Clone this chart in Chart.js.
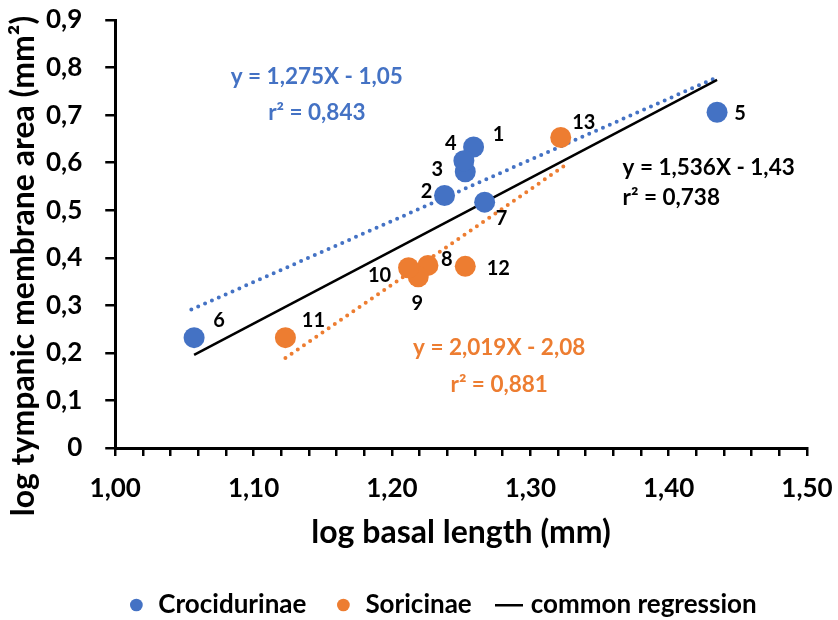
<!DOCTYPE html>
<html>
<head>
<meta charset="utf-8">
<script src="https://cdn.jsdelivr.net/npm/chart.js@4.4.1/dist/chart.umd.min.js"></script>
<style>
  html, body { margin: 0; padding: 0; background: #fff; }
  #wrap { width: 838px; height: 620px; }
</style>
</head>
<body>
<div id="wrap"><canvas id="graph"></canvas></div>
<script>
// Crocidurinae (espèces 1 à 7)
const crocIds = ['1', '2', '3', '4', '5', '6', '7'];
const crocX = [1.259, 1.238, 1.253, 1.252, 1.435, 1.057, 1.267];
const crocY = [0.633, 0.531, 0.581, 0.604, 0.706, 0.232, 0.517];

// Soricinae (espèces 8 à 13)
const soriIds = ['8', '9', '10', '11', '12', '13'];
const soriX = [1.226, 1.219, 1.212, 1.123, 1.253, 1.322];
const soriY = [0.384, 0.360, 0.379, 0.232, 0.382, 0.653];

// droites de régression (extrémités)
const crocTrendX = [1.055, 1.433];
const crocTrendY = [0.291, 0.777];
const soriTrendX = [1.123, 1.325];
const soriTrendY = [0.189, 0.594];
const commonX = [1.057, 1.435];
const commonY = [0.196, 0.774];

// équations affichées
const crocEq = ['y = 1,275X - 1,05', 'r² = 0,843'];
const soriEq = ['y = 2,019X - 2,08', 'r² = 0,881'];
const commonEq = ['y = 1,536X - 1,43', 'r² = 0,738'];

// axes
const xMin = 1.0, xMax = 1.5;
const yMin = 0, yMax = 0.9;

const BLUE = '#4472C4';
const ORANGE = '#ED7D31';
const FONT = 'Lato';

// décalage (px) des numéros par rapport aux points
const crocLabelOffsets = [[25, -12], [-18, -4], [-28, -2], [-13, -17], [23, 1], [25, -17], [17, 16]];
const soriLabelOffsets = [[19, -6], [-1, 27], [-29, 8], [28, -17], [33, 2], [23, -15]];

const toPoints = (xs, ys) => xs.map((x, i) => ({ x: x, y: ys[i] }));
const comma = (v, d) => v.toFixed(d).replace('.', ',');

// petit trait noir pour la légende
const legendLine = document.createElement('canvas');
legendLine.width = 28;
legendLine.height = 4;
const lctx = legendLine.getContext('2d');
lctx.fillStyle = '#000';
lctx.fillRect(0, 1, 28, 2.5);

// numéros des points + équations
const annotations = {
    id: 'annotations',
    afterLayout(chart) {
        // la légende de la figure est un peu décalée vers la droite
        chart.legend.left += 27;
        chart.legend.right += 27;
    },
    afterDatasetsDraw(chart) {
        const { ctx, scales } = chart;
        const sx = scales.x, sy = scales.y;
        ctx.save();
        ctx.fillStyle = '#000';
        ctx.textAlign = 'center';
        ctx.textBaseline = 'middle';
        ctx.font = 'bold 20px ' + FONT;
        crocIds.forEach((id, i) => {
            const o = crocLabelOffsets[i];
            ctx.fillText(id, sx.getPixelForValue(crocX[i]) + o[0], sy.getPixelForValue(crocY[i]) + o[1]);
        });
        soriIds.forEach((id, i) => {
            const o = soriLabelOffsets[i];
            ctx.fillText(id, sx.getPixelForValue(soriX[i]) + o[0], sy.getPixelForValue(soriY[i]) + o[1]);
        });

        ctx.font = 'bold 22.5px ' + FONT;
        ctx.fillStyle = BLUE;
        ctx.fillText(crocEq[0], sx.getPixelForValue(1.1457), sy.getPixelForValue(0.781));
        ctx.fillText(crocEq[1], sx.getPixelForValue(1.1457), sy.getPixelForValue(0.706));
        ctx.fillStyle = ORANGE;
        ctx.fillText(soriEq[0], sx.getPixelForValue(1.2775), sy.getPixelForValue(0.2106));
        ctx.fillText(soriEq[1], sx.getPixelForValue(1.2775), sy.getPixelForValue(0.132));
        ctx.fillStyle = '#000';
        ctx.textAlign = 'left';
        ctx.fillText(commonEq[0], sx.getPixelForValue(1.3667), sy.getPixelForValue(0.589));
        ctx.fillText(commonEq[1], sx.getPixelForValue(1.3667), sy.getPixelForValue(0.5255));
        ctx.restore();
    },
    afterDraw(chart) {
        // titre de l'axe y, décalé vers le bas comme dans la figure
        const ctx = chart.ctx;
        ctx.save();
        ctx.translate(24, 266);
        ctx.rotate(-Math.PI / 2);
        ctx.textAlign = 'center';
        ctx.textBaseline = 'middle';
        ctx.fillStyle = '#000';
        ctx.font = 'bold 32px ' + FONT;
        ctx.fillText('log tympanic membrane area (mm²)', 0, 0);
        ctx.restore();
    }
};

const dotted = { borderWidth: 4, borderDash: [0, 7.5], borderCapStyle: 'round', pointRadius: 0, showLine: true };

new Chart(document.getElementById('graph'), {
    type: 'scatter',
    data: {
        datasets: [
            {
                label: 'Crocidurinae',
                data: toPoints(crocX, crocY),
                backgroundColor: BLUE,
                borderColor: BLUE,
                pointRadius: 10.5,
                pointBorderWidth: 0,
            },
            {
                label: 'Soricinae',
                data: toPoints(soriX, soriY),
                backgroundColor: ORANGE,
                borderColor: ORANGE,
                pointRadius: 10.5,
                pointBorderWidth: 0,
            },
            {
                label: 'common regression',
                data: toPoints(commonX, commonY),
                borderColor: '#000',
                backgroundColor: '#000',
                borderWidth: 2.5,
                pointRadius: 0,
                pointStyle: legendLine,
                showLine: true,
            },
            Object.assign({ label: 'trend croc', data: toPoints(crocTrendX, crocTrendY), borderColor: BLUE }, dotted),
            Object.assign({ label: 'trend sori', data: toPoints(soriTrendX, soriTrendY), borderColor: ORANGE }, dotted),
        ],
    },
    plugins: [annotations],
    options: {
        responsive: true,
        maintainAspectRatio: false,
        animation: false,
        layout: { padding: { left: 23, right: 31, top: 20, bottom: -8 } },
        plugins: {
            tooltip: { enabled: false },
            legend: {
                position: 'bottom',
                labels: {
                    filter: (item) => item.datasetIndex < 3,
                    usePointStyle: true,
                    boxWidth: 18,
                    boxHeight: 9,
                    padding: 28,
                    color: '#000',
                    font: { family: FONT, size: 26, weight: 'bold' },
                },
            },
        },
        scales: {
            x: {
                type: 'linear',
                min: xMin,
                max: xMax,
                // le dernier libellé peut déborder dans la marge droite
                afterFit: (s) => { s.paddingLeft = 0; s.paddingRight = 0; },
                border: { color: '#000', width: 3 },
                grid: { drawOnChartArea: false, color: '#000', lineWidth: 2.5, tickLength: 8 },
                ticks: {
                    stepSize: 0.02,
                    autoSkip: false,
                    maxRotation: 0,
                    padding: 20,
                    color: '#000',
                    font: { family: FONT, size: 26, weight: 'bold', lineHeight: 1 },
                    callback: (v) => Math.abs(v * 10 - Math.round(v * 10)) < 1e-6 ? comma(v, 2) : '',
                },
                title: {
                    display: true,
                    text: 'log basal length (mm)',
                    color: '#000',
                    font: { family: FONT, size: 32, weight: 'bold', lineHeight: 1 },
                    padding: { top: -5, bottom: 15 },
                },
            },
            y: {
                type: 'linear',
                min: yMin,
                max: yMax,
                afterFit: (s) => { s.paddingTop = 0; s.paddingBottom = 0; },
                border: { color: '#000', width: 3 },
                grid: { drawOnChartArea: false, color: '#000', lineWidth: 2.5, tickLength: 10 },
                ticks: {
                    stepSize: 0.1,
                    padding: 23,
                    color: '#000',
                    font: { family: FONT, size: 26, weight: 'bold' },
                    callback: (v) => v === 0 ? '0' : comma(v, 1),
                },
            },
        },
    },
});
</script>
</body>
</html>
